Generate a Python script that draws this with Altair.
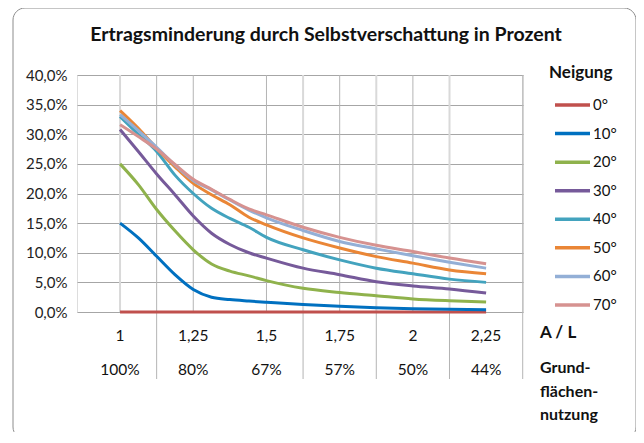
import altair as alt
import pandas as pd

# ---------------- data ----------------
al = [1.0, 1.0625, 1.125, 1.1875, 1.25, 1.3125, 1.375, 1.44, 1.5, 1.625, 1.75, 1.875, 2.0, 2.125, 2.25]
series = ["0°", "10°", "20°", "30°", "40°", "50°", "60°", "70°"]
colors = ["#C0504D", "#0070C0", "#8FB24C", "#765A9A", "#43A3BE", "#EA8636", "#93AFD6", "#D69290"]

s0 = [0, 0, 0, 0, 0, 0, 0, 0, 0, 0, 0, 0, 0, 0, 0]
s10 = [15.0, 12.5, 9.4, 6.3, 3.8, 2.5, 2.1, 1.85, 1.65, 1.25, 0.95, 0.72, 0.56, 0.45, 0.4]
s20 = [25.0, 21.5, 17.3, 13.7, 10.5, 8.1, 6.9, 6.1, 5.3, 4.0, 3.3, 2.75, 2.2, 1.9, 1.7]
s30 = [30.8, 27.1, 23.3, 19.8, 16.2, 13.3, 11.4, 10.0, 9.1, 7.4, 6.3, 5.1, 4.4, 3.9, 3.2]
s40 = [33.0, 30.0, 27.1, 23.1, 20.0, 17.5, 15.8, 14.3, 12.6, 10.5, 8.8, 7.4, 6.45, 5.55, 5.0]
s50 = [34.0, 31.0, 27.6, 24.5, 21.7, 19.8, 18.1, 16.0, 14.7, 12.5, 10.8, 9.35, 8.25, 7.1, 6.45]
s60 = [33.3, 30.6, 27.8, 24.8, 22.2, 20.6, 18.9, 17.2, 15.9, 13.75, 11.9, 10.65, 9.5, 8.4, 7.4]
s70 = [31.6, 29.6, 27.5, 24.9, 22.4, 20.7, 19.0, 17.4, 16.4, 14.3, 12.6, 11.25, 10.2, 9.1, 8.15]
values = [s0, s10, s20, s30, s40, s50, s60, s70]

y_ticks = [0, 0.05, 0.10, 0.15, 0.20, 0.25, 0.30, 0.35, 0.40]
cat_pos = [1.0, 1.25, 1.5, 1.75, 2.0, 2.25]
cat_labels = ["1", "1,25", "1,5", "1,75", "2", "2,25"]
use_labels = ["100%", "80%", "67%", "57%", "50%", "44%"]
grid_light = [1.0, 1.625, 1.875, 2.125]
grid_dark = [1.125, 1.25, 1.5, 1.75, 2.0, 2.375]
separators = [1.125, 1.625, 1.875, 2.125, 2.375]

title_text = "Ertragsminderung durch Selbstverschattung in Prozent"

# ---------------- tables ----------------
rows = []
for name, vals in zip(series, values):
    for a, v in zip(al, vals):
        rows.append({"AL": a, "Wert": v / 100.0, "Neigung": name})
df = pd.DataFrame(rows)
df_cat = pd.DataFrame({"AL": cat_pos, "lab": cat_labels, "use": use_labels})
df_light = pd.DataFrame({"AL": grid_light})
df_dark = pd.DataFrame({"AL": grid_dark})
df_sep = pd.DataFrame({"AL": separators})
df_leg = pd.DataFrame({"Neigung": series})

W, H = 446, 237
FONT = "Lato"
xs = alt.Scale(domain=[0.853, 2.376], nice=False, zero=False)
cs = alt.Scale(domain=series, range=colors)

X = alt.X("AL:Q", scale=xs, axis=None)

lines = alt.Chart(df).mark_line(strokeWidth=3, interpolate="monotone").encode(
    x=X,
    y=alt.Y("Wert:Q", scale=alt.Scale(domain=[0, 0.4], nice=False),
            axis=alt.Axis(values=y_ticks, title=None, domain=False, ticks=False, tickSize=0,
                          labelPadding=10, labelFontSize=15, labelColor="#222", labelFont=FONT,
                          gridColor="#a6a6a6", gridWidth=1,
                          labelExpr="replace(format(datum.value, '.1%'), '.', ',')")),
    color=alt.Color("Neigung:N", scale=cs, legend=None),
    order=alt.Order("AL:Q"),
)

vlight = alt.Chart(df_light).mark_rule(color="#d9d9d9", strokeWidth=2).encode(
    x=X, y=alt.value(0), y2=alt.value(H))
vdark = alt.Chart(df_dark).mark_rule(color="#b4b4b4", strokeWidth=1).encode(
    x=X, y=alt.value(0), y2=alt.value(H))
seps = alt.Chart(df_sep).mark_rule(color="#b4b4b4", strokeWidth=1).encode(
    x=X, y=alt.value(H), y2=alt.value(H + 67))

cat_text = alt.Chart(df_cat).mark_text(font=FONT, fontSize=15.5, color="#111", baseline="middle").encode(
    x=X, y=alt.value(H + 24), text="lab:N")
use_text = alt.Chart(df_cat).mark_text(font=FONT, fontSize=15.5, color="#111", baseline="middle").encode(
    x=X, y=alt.value(H + 58), text="use:N")

LY = alt.Y("Neigung:N", scale=alt.Scale(type="point", domain=series, range=[30, 230], padding=0), axis=None)
leg_rule = alt.Chart(df_leg).mark_rule(strokeWidth=3.5).encode(
    x=alt.value(478), x2=alt.value(513), y=LY, color=alt.Color("Neigung:N", scale=cs, legend=None))
leg_text = alt.Chart(df_leg).mark_text(font=FONT, fontSize=15, color="#111", align="left", baseline="middle").encode(
    x=alt.value(516), y=LY, text="Neigung:N")

ann = pd.DataFrame({"t": ["x"]})
def label(txt, x, y, size=16, bold=True, align="left"):
    return alt.Chart(ann).mark_text(text=txt, font=FONT, fontSize=size, fontWeight="bold" if bold else "normal",
                                     color="#111", align=align, baseline="middle").encode(
        x=alt.value(x), y=alt.value(y))

title = label(title_text, 249, -40, size=19.5, align="center")
neig = label("Neigung", 472, -2, size=17)
al_lab = label("A / L", 463, 258, size=17)
g1 = label("Grund-", 463, 293)
g2 = label("flächen-", 463, 317)
g3 = label("nutzung", 463, 340)

border = alt.Chart(ann).mark_rect(fill=None, stroke="#8c8c8c", strokeWidth=1, cornerRadius=12).encode(
    x=alt.value(-64), x2=alt.value(559), y=alt.value(-67), y2=alt.value(364))

chart = alt.layer(
    border, vlight, vdark, seps, lines, cat_text, use_text, leg_rule, leg_text,
    title, neig, al_lab, g1, g2, g3
).resolve_scale(y="independent").properties(
    width=W, height=H,
    autosize=alt.AutoSizeParams(type="none"),
    padding={"left": 69, "top": 67, "right": 113, "bottom": 120},
    background="white",
).configure_view(stroke=None).configure(font=FONT)

chart.save("out.html", embed_options={"renderer": "svg", "actions": False})
